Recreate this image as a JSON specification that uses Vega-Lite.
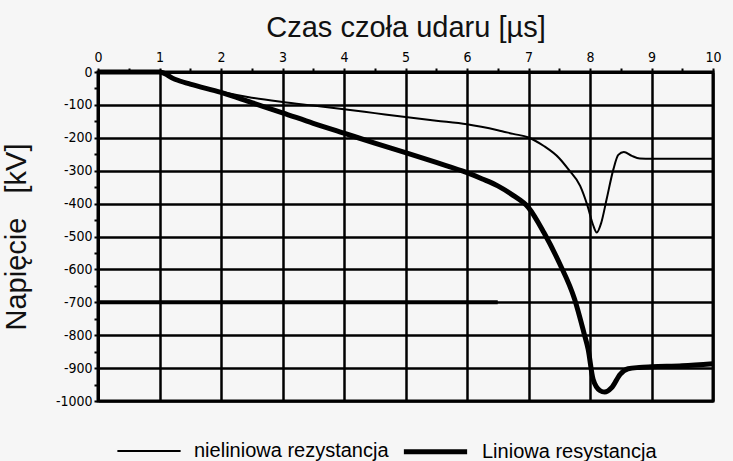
{
  "$schema": "https://vega.github.io/schema/vega-lite/v6.json",
  "width": 615,
  "height": 329,
  "autosize": {"type": "none"},
  "padding": {"left": 98, "top": 72, "right": 20, "bottom": 60},
  "background": "#f6f6f6",
  "config": {
    "view": {"stroke": "black", "strokeWidth": 3, "fill": "#f6f6f6"},
    "font": "Liberation Sans"
  },
  "datasets": {
    "curves": [
      {"t": 0, "v": 0, "series": "nieliniowa rezystancja"},
      {"t": 1, "v": 0, "series": "nieliniowa rezystancja"},
      {"t": 1.25, "v": -22, "series": "nieliniowa rezystancja"},
      {"t": 1.5, "v": -37, "series": "nieliniowa rezystancja"},
      {"t": 1.75, "v": -49, "series": "nieliniowa rezystancja"},
      {"t": 2, "v": -60, "series": "nieliniowa rezystancja"},
      {"t": 2.5, "v": -78, "series": "nieliniowa rezystancja"},
      {"t": 3, "v": -91, "series": "nieliniowa rezystancja"},
      {"t": 3.5, "v": -102, "series": "nieliniowa rezystancja"},
      {"t": 4, "v": -113, "series": "nieliniowa rezystancja"},
      {"t": 4.5, "v": -125, "series": "nieliniowa rezystancja"},
      {"t": 5, "v": -137, "series": "nieliniowa rezystancja"},
      {"t": 5.5, "v": -148, "series": "nieliniowa rezystancja"},
      {"t": 6, "v": -159, "series": "nieliniowa rezystancja"},
      {"t": 6.5, "v": -177, "series": "nieliniowa rezystancja"},
      {"t": 6.75, "v": -188, "series": "nieliniowa rezystancja"},
      {"t": 7, "v": -199, "series": "nieliniowa rezystancja"},
      {"t": 7.25, "v": -225, "series": "nieliniowa rezystancja"},
      {"t": 7.5, "v": -262, "series": "nieliniowa rezystancja"},
      {"t": 7.65, "v": -296, "series": "nieliniowa rezystancja"},
      {"t": 7.84, "v": -346, "series": "nieliniowa rezystancja"},
      {"t": 7.96, "v": -407, "series": "nieliniowa rezystancja"},
      {"t": 8.05, "v": -465, "series": "nieliniowa rezystancja"},
      {"t": 8.11, "v": -488, "series": "nieliniowa rezystancja"},
      {"t": 8.18, "v": -460, "series": "nieliniowa rezystancja"},
      {"t": 8.27, "v": -387, "series": "nieliniowa rezystancja"},
      {"t": 8.38, "v": -296, "series": "nieliniowa rezystancja"},
      {"t": 8.46, "v": -252, "series": "nieliniowa rezystancja"},
      {"t": 8.55, "v": -243, "series": "nieliniowa rezystancja"},
      {"t": 8.68, "v": -255, "series": "nieliniowa rezystancja"},
      {"t": 8.81, "v": -263, "series": "nieliniowa rezystancja"},
      {"t": 9, "v": -264, "series": "nieliniowa rezystancja"},
      {"t": 10, "v": -264, "series": "nieliniowa rezystancja"},
      {"t": 0, "v": 0, "series": "Liniowa resystancja"},
      {"t": 1, "v": 0, "series": "Liniowa resystancja"},
      {"t": 1.25, "v": -22, "series": "Liniowa resystancja"},
      {"t": 1.5, "v": -37, "series": "Liniowa resystancja"},
      {"t": 2, "v": -62, "series": "Liniowa resystancja"},
      {"t": 2.5, "v": -93, "series": "Liniowa resystancja"},
      {"t": 3, "v": -124, "series": "Liniowa resystancja"},
      {"t": 3.5, "v": -156, "series": "Liniowa resystancja"},
      {"t": 4, "v": -186, "series": "Liniowa resystancja"},
      {"t": 4.5, "v": -216, "series": "Liniowa resystancja"},
      {"t": 5, "v": -245, "series": "Liniowa resystancja"},
      {"t": 5.5, "v": -275, "series": "Liniowa resystancja"},
      {"t": 6, "v": -306, "series": "Liniowa resystancja"},
      {"t": 6.25, "v": -325, "series": "Liniowa resystancja"},
      {"t": 6.5, "v": -346, "series": "Liniowa resystancja"},
      {"t": 6.75, "v": -375, "series": "Liniowa resystancja"},
      {"t": 7, "v": -412, "series": "Liniowa resystancja"},
      {"t": 7.25, "v": -488, "series": "Liniowa resystancja"},
      {"t": 7.5, "v": -580, "series": "Liniowa resystancja"},
      {"t": 7.75, "v": -691, "series": "Liniowa resystancja"},
      {"t": 7.9, "v": -792, "series": "Liniowa resystancja"},
      {"t": 7.97, "v": -843, "series": "Liniowa resystancja"},
      {"t": 8.05, "v": -934, "series": "Liniowa resystancja"},
      {"t": 8.16, "v": -968, "series": "Liniowa resystancja"},
      {"t": 8.24, "v": -973, "series": "Liniowa resystancja"},
      {"t": 8.35, "v": -960, "series": "Liniowa resystancja"},
      {"t": 8.49, "v": -919, "series": "Liniowa resystancja"},
      {"t": 8.62, "v": -902, "series": "Liniowa resystancja"},
      {"t": 8.8, "v": -898, "series": "Liniowa resystancja"},
      {"t": 9, "v": -896, "series": "Liniowa resystancja"},
      {"t": 9.5, "v": -893, "series": "Liniowa resystancja"},
      {"t": 10, "v": -887, "series": "Liniowa resystancja"}
    ],
    "thickgrid": [
      {"t": 0, "t2": 6.5, "v": -700}
    ]
  },
  "encoding": {
    "x": {
      "field": "t",
      "type": "quantitative",
      "scale": {"domain": [0, 10], "nice": false, "zero": false},
      "axis": {
        "orient": "top",
        "title": "Czas czoła udaru [µs]",
        "titleFont": "Liberation Sans",
        "titleFontSize": 29,
        "titleFontWeight": "normal",
        "titleColor": "#111",
        "titlePadding": 8,
        "values": [0, 0.5, 1, 1.5, 2, 2.5, 3, 3.5, 4, 4.5, 5, 5.5, 6, 6.5, 7, 7.5, 8, 8.5, 9, 9.5, 10],
        "labelExpr": "datum.value % 1 === 0 ? '' + datum.value : ''",
        "labelFont": "Liberation Sans Narrow, DejaVu Sans Condensed, sans-serif",
        "labelFontSize": 14,
        "labelColor": "black",
        "labelPadding": 4,
        "labelFlush": false,
        "labelOverlap": false,
        "grid": true,
        "gridColor": "black",
        "gridWidth": 2.5,
        "gridOpacity": {"condition": {"test": "datum.value % 1 === 0", "value": 1}, "value": 0},
        "tickColor": "black",
        "tickWidth": 2,
        "tickSize": 4,
        "domainColor": "black",
        "domainWidth": 3
      }
    },
    "y": {
      "field": "v",
      "type": "quantitative",
      "scale": {"domain": [-1000, 0], "nice": false},
      "axis": {
        "title": "Napięcie\u00a0\u00a0\u00a0[kV]",
        "titleFont": "Liberation Sans",
        "titleFontSize": 29,
        "titleFontWeight": "normal",
        "titleColor": "#111",
        "titlePadding": 24,
        "values": [0, -50, -100, -150, -200, -250, -300, -350, -400, -450, -500, -550, -600, -650, -700, -750, -800, -850, -900, -950, -1000],
        "labelExpr": "datum.value % 100 === 0 ? '' + datum.value : ''",
        "labelFont": "Liberation Sans Narrow, DejaVu Sans Condensed, sans-serif",
        "labelFontSize": 14,
        "labelColor": "black",
        "labelPadding": 2,
        "labelFlush": false,
        "labelOverlap": false,
        "grid": true,
        "gridColor": "black",
        "gridWidth": 2.5,
        "gridOpacity": {"condition": {"test": "datum.value % 100 === 0", "value": 1}, "value": 0},
        "tickColor": "black",
        "tickWidth": 2,
        "tickSize": 4,
        "domainColor": "black",
        "domainWidth": 3
      }
    }
  },
  "layer": [
    {
      "data": {"name": "curves"},
      "mark": {"type": "line", "color": "black", "interpolate": "monotone"},
      "encoding": {
        "detail": {"field": "series"},
        "strokeWidth": {
          "field": "series",
          "type": "nominal",
          "scale": {"domain": ["nieliniowa rezystancja", "Liniowa resystancja"], "range": [2, 5]},
          "legend": {
            "title": null,
            "orient": "none",
            "legendX": 18,
            "legendY": 345,
            "direction": "horizontal",
            "symbolType": "stroke",
            "symbolSize": 4000,
            "symbolStrokeColor": "black",
            "labelFont": "Liberation Sans",
            "labelFontSize": 20,
            "labelColor": "black",
            "labelOffset": 12,
            "labelLimit": 400,
            "columnPadding": 4
          }
        }
      }
    },
    {
      "data": {"name": "thickgrid"},
      "mark": {"type": "rule", "color": "black", "strokeWidth": 4},
      "encoding": {
        "x2": {"field": "t2"}
      }
    }
  ]
}
